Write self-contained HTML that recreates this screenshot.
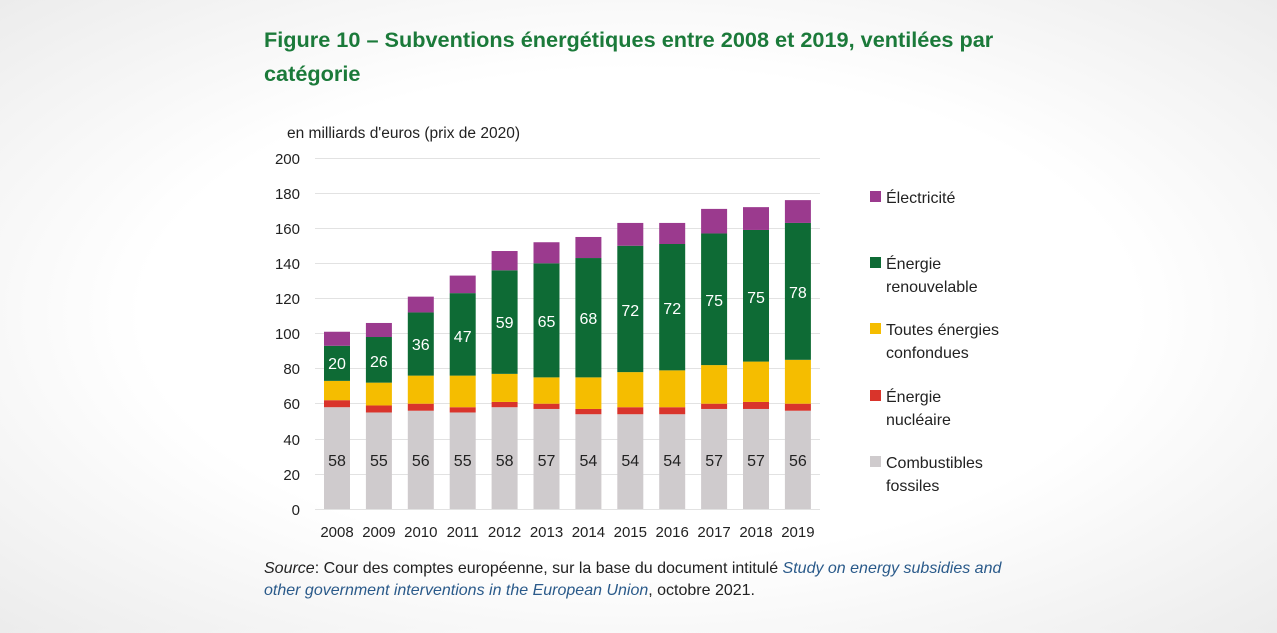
<!DOCTYPE html>
<html><head><meta charset="utf-8"><style>
body{margin:0;width:1277px;height:628px;overflow:hidden;background:radial-gradient(ellipse at 50% 50%,#ffffff 55%,#ececec 100%);font-family:"Liberation Sans",sans-serif}
</style></head><body>
<svg width="1277" height="628" xmlns="http://www.w3.org/2000/svg" font-family="Liberation Sans, sans-serif">
<text x="264" y="47" font-size="21.7" font-weight="bold" fill="#1b7a3a">Figure 10 – Subventions énergétiques entre 2008 et 2019, ventilées par</text>
<text x="264" y="81" font-size="21.7" font-weight="bold" fill="#1b7a3a">catégorie</text>
<text x="287" y="138" font-size="15.5" fill="#222">en milliards d'euros (prix de 2020)</text>
<g stroke="#e2e2e2" stroke-width="1">
<line x1="315" x2="820" y1="158.5" y2="158.5"/><line x1="315" x2="820" y1="193.5" y2="193.5"/><line x1="315" x2="820" y1="228.5" y2="228.5"/><line x1="315" x2="820" y1="263.5" y2="263.5"/><line x1="315" x2="820" y1="298.5" y2="298.5"/><line x1="315" x2="820" y1="333.5" y2="333.5"/><line x1="315" x2="820" y1="368.5" y2="368.5"/><line x1="315" x2="820" y1="403.5" y2="403.5"/><line x1="315" x2="820" y1="439.5" y2="439.5"/><line x1="315" x2="820" y1="474.5" y2="474.5"/><line x1="315" x2="820" y1="509.5" y2="509.5"/>
</g>
<g font-size="15" fill="#222" text-anchor="end">
<text x="300" y="164">200</text><text x="300" y="199">180</text><text x="300" y="234">160</text><text x="300" y="269">140</text><text x="300" y="304">120</text><text x="300" y="339">100</text><text x="300" y="374">80</text><text x="300" y="409">60</text><text x="300" y="445">40</text><text x="300" y="480">20</text><text x="300" y="515">0</text>
</g>
<g id="bars"></g>
<g font-size="16" fill="#222">
<rect x="870" y="191" width="11" height="11" fill="#9b3a8e"/><text x="886" y="203">Électricité</text>
<rect x="870" y="257" width="11" height="11" fill="#0e6b35"/><text x="886" y="269">Énergie</text><text x="886" y="292">renouvelable</text>
<rect x="870" y="323" width="11" height="11" fill="#f5bd00"/><text x="886" y="335">Toutes énergies</text><text x="886" y="358">confondues</text>
<rect x="870" y="390" width="11" height="11" fill="#d9342b"/><text x="886" y="402">Énergie</text><text x="886" y="425">nucléaire</text>
<rect x="870" y="456" width="11" height="11" fill="#cfcbcd"/><text x="886" y="468">Combustibles</text><text x="886" y="491">fossiles</text>
</g>
<text x="264" y="573" font-size="16" fill="#222"><tspan font-style="italic">Source</tspan>: Cour des comptes européenne, sur la base du document intitulé <tspan font-style="italic" fill="#2a5a8a">Study on energy subsidies and</tspan></text>
<text x="264" y="595" font-size="16" fill="#222"><tspan font-style="italic" fill="#2a5a8a">other government interventions in the European Union</tspan>, octobre 2021.</text>
</svg>
<script>
var d=[[2008,58,62,73,93,101,20],[2009,55,59,72,98,106,26],[2010,56,60,76,112,121,36],[2011,55,58,76,123,133,47],[2012,58,61,77,136,147,59],[2013,57,60,75,140,152,65],[2014,54,57,75,143,155,68],[2015,54,58,78,150,163,72],[2016,54,58,79,151,163,72],[2017,57,60,82,157,171,75],[2018,57,61,84,159,172,75],[2019,56,60,85,163,176,78]];
var ly=[363,361,344,336,322,321,318,310,308,300,297,292];
var c=["#cfcbcd","#d9342b","#f5bd00","#0e6b35","#9b3a8e"],s="";
function y(v){return 509-1.755*v}
d.forEach(function(r,i){var x=324+i*41.9,p=0;
for(var k=0;k<5;k++){var t=r[k+1];s+='<rect x="'+x+'" y="'+y(t)+'" width="26" height="'+(y(p)-y(t))+'" fill="'+c[k]+'"/>';p=t;}
var cx=x+13;
s+='<text x="'+cx+'" y="466" font-size="16" text-anchor="middle" fill="#222">'+r[1]+'</text>';
s+='<text x="'+cx+'" y="'+(ly[i]+6)+'" font-size="16" text-anchor="middle" fill="#fff">'+r[6]+'</text>';
s+='<text x="'+cx+'" y="537" font-size="15" text-anchor="middle" fill="#222">'+r[0]+'</text>';});
document.getElementById("bars").innerHTML=s;
</script>
</body></html>
